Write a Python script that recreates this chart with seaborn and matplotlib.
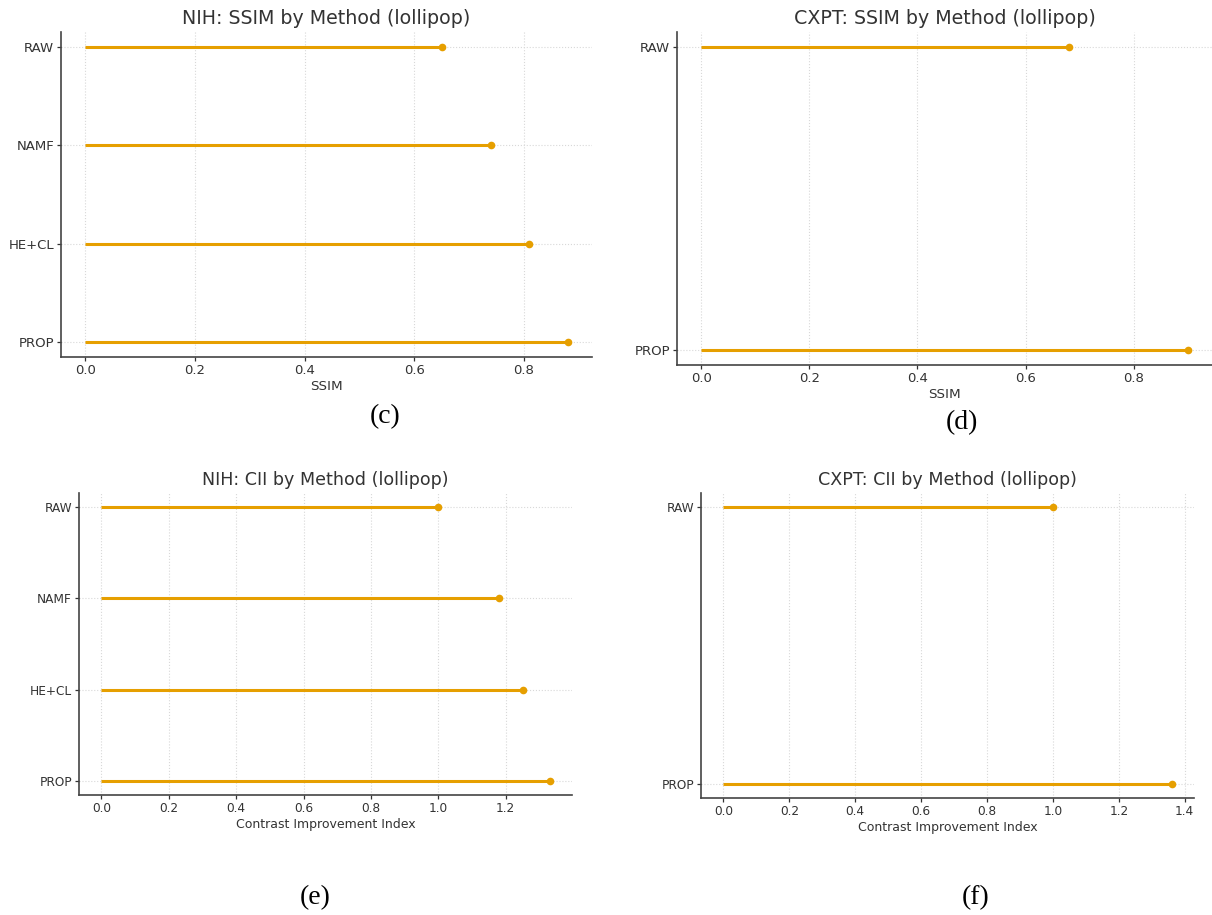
import numpy as np
import pandas as pd
import seaborn as sns
import matplotlib.pyplot as plt

# values
nih_methods = ["RAW", "NAMF", "HE+CL", "PROP"]
cxpt_methods = ["RAW", "PROP"]
nih_ssim = [0.65, 0.74, 0.81, 0.88]
cxpt_ssim = [0.68, 0.90]
nih_cii = [1.00, 1.18, 1.25, 1.33]
cxpt_cii = [1.00, 1.36]

ORANGE = "#E69F00"
TEXT = "#333333"

sns.set_theme(style="whitegrid")
sns.set_style("whitegrid", {
    "grid.color": "#d8d8d8",
    "grid.linestyle": ":",
    "axes.edgecolor": "#444444",
    "axes.labelcolor": TEXT,
    "text.color": TEXT,
    "xtick.color": TEXT,
    "ytick.color": TEXT,
    "xtick.bottom": True,
    "ytick.left": True,
})
plt.rcParams["font.family"] = ["DejaVu Sans"]


def lollipop(ax, methods, values, title, xlabel, title_fs, tick_fs, label_fs):
    df = pd.DataFrame({"Method": methods, "Value": values})
    pos = np.arange(len(methods))
    # stems from zero, then the heads
    ax.hlines(y=pos, xmin=0, xmax=df["Value"], color=ORANGE, lw=2.2, zorder=2)
    sns.stripplot(data=df, x="Value", y="Method", order=methods, jitter=False,
                  color=ORANGE, size=5.5, linewidth=0, ax=ax, zorder=3)
    n = len(methods) - 1
    ax.set_ylim(n + 0.05 * n, -0.05 * n)
    ax.set_xlim(-0.05 * max(values), max(values) * 1.05)
    ax.grid(True, axis="both", lw=0.8)
    for s in ["top", "right"]:
        ax.spines[s].set_visible(False)
    for s in ["left", "bottom"]:
        ax.spines[s].set_linewidth(1.2)
    ax.tick_params(axis="both", length=3, width=0.9, pad=2, labelsize=tick_fs)
    ax.set_title(title, fontsize=title_fs, color=TEXT)
    ax.set_xlabel(xlabel, fontsize=label_fs, labelpad=2)
    ax.set_ylabel("")


fig = plt.figure(figsize=(12.12, 9.15), dpi=100)
W, H = 1212, 915


def box(l, r, t, b):
    return [l / W, 1 - b / H, (r - l) / W, (b - t) / H]


ax_c = fig.add_axes(box(61, 592, 32, 357))
ax_d = fig.add_axes(box(677, 1212, 32, 365))
ax_e = fig.add_axes(box(79, 572, 493, 795))
ax_f = fig.add_axes(box(701, 1194, 493, 798))

lollipop(ax_c, nih_methods, nih_ssim, "NIH: SSIM by Method (lollipop)", "SSIM", 13.7, 9.5, 9.7)
lollipop(ax_d, cxpt_methods, cxpt_ssim, "CXPT: SSIM by Method (lollipop)", "SSIM", 13.7, 9.5, 9.7)
lollipop(ax_e, nih_methods, nih_cii, "NIH: CII by Method (lollipop)",
         "Contrast Improvement Index", 12.6, 8.7, 9.0)
lollipop(ax_f, cxpt_methods, cxpt_cii, "CXPT: CII by Method (lollipop)",
         "Contrast Improvement Index", 12.6, 8.7, 9.0)

captions = [("(c)", 385, 417), ("(d)", 962, 423), ("(e)", 315, 898), ("(f)", 976, 898)]
for txt, x, y in captions:
    fig.text(x / W, 1 - y / H, txt, ha="center", va="center", fontsize=20,
             family=["Liberation Serif", "DejaVu Serif"], color="black")

fig.savefig("out.png", dpi=100)
